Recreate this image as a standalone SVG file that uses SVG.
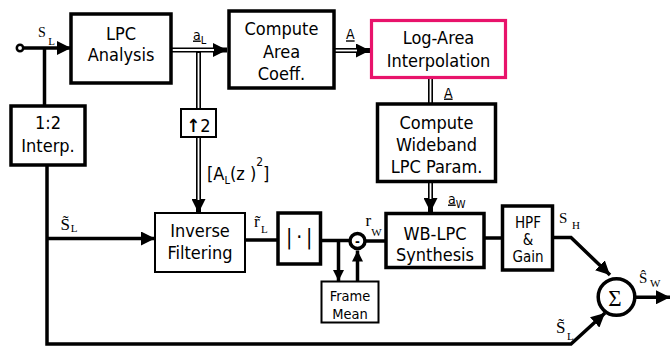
<svg xmlns="http://www.w3.org/2000/svg" width="670" height="347" viewBox="0 0 670 347">
<defs>
<style>
.bk{fill:#fff;stroke:#000;stroke-width:3.5}
.bn{fill:#fff;stroke:#000;stroke-width:2}
.pk{fill:#fff;stroke:#E8136B;stroke-width:3.2}
.ln{fill:none;stroke:#000;stroke-width:3.5}
.dbk{fill:none;stroke:#000;stroke-width:5}
.dwh{fill:none;stroke:#fff;stroke-width:1.8}
.t{font-family:"DejaVu Sans","Liberation Sans",sans-serif;font-stretch:condensed;font-size:18px;text-anchor:middle;fill:#000}
.s{font-family:"DejaVu Sans","Liberation Sans",sans-serif;font-stretch:condensed;font-size:15px;text-anchor:middle;fill:#000}
.lb{font-family:"DejaVu Sans","Liberation Sans",sans-serif;font-stretch:condensed;font-size:14px;fill:#000}
.sf{font-family:"Liberation Serif","Times New Roman",serif;fill:#000}
</style>
<marker id="ah" markerUnits="userSpaceOnUse" markerWidth="14" markerHeight="14" refX="14" refY="7" orient="auto" viewBox="0 0 14 14"><path d="M0,0 L14,7 L0,14 z" fill="#000"/></marker>
<marker id="as" markerUnits="userSpaceOnUse" markerWidth="11" markerHeight="11" refX="11" refY="5.5" orient="auto" viewBox="0 0 11 11"><path d="M0,0 L11,5.5 L0,11 z" fill="#000"/></marker>
</defs>
<rect width="670" height="347" fill="#fff"/>

<g id="connectors">
<circle cx="20" cy="48" r="3.2" fill="#fff" stroke="#000" stroke-width="2.5"/>
<line class="ln" x1="23" y1="48" x2="71" y2="48" marker-end="url(#ah)"/>
<line class="ln" x1="44.5" y1="48" x2="44.5" y2="106"/>
<polyline class="ln" points="47,165 47,344 571,344 605,313" marker-end="url(#ah)"/>
<line class="ln" x1="47" y1="238.5" x2="155" y2="238.5" marker-end="url(#ah)"/>
<line class="dbk" x1="171" y1="50" x2="227" y2="50" marker-end="url(#ah)"/>
<line class="dwh" x1="171" y1="50" x2="214" y2="50"/>
<line class="dbk" x1="198.5" y1="52" x2="198.5" y2="109"/>
<line class="dwh" x1="198.5" y1="53" x2="198.5" y2="109"/>
<line class="dbk" x1="198.5" y1="137" x2="198.5" y2="213" marker-end="url(#ah)"/>
<line class="dwh" x1="198.5" y1="137" x2="198.5" y2="200"/>
<line class="dbk" x1="334" y1="50.5" x2="370" y2="50.5" marker-end="url(#ah)"/>
<line class="dwh" x1="334" y1="50.5" x2="357" y2="50.5"/>
<line class="dbk" x1="430.5" y1="78" x2="430.5" y2="104"/>
<line class="dwh" x1="430.5" y1="79" x2="430.5" y2="103"/>
<line class="dbk" x1="430.5" y1="181" x2="430.5" y2="212" marker-end="url(#ah)"/>
<line class="dwh" x1="430.5" y1="182" x2="430.5" y2="199"/>
<line class="ln" x1="245" y1="240" x2="278" y2="240"/>
<line class="ln" x1="320" y1="240.5" x2="349.5" y2="240.5"/>
<line class="ln" x1="338.5" y1="240.5" x2="338.5" y2="281" marker-end="url(#as)"/>
<line class="ln" x1="357.5" y1="282" x2="357.5" y2="250.5" marker-end="url(#as)"/>
<line class="ln" x1="365.5" y1="241" x2="386" y2="241"/>
<line class="ln" x1="484" y1="238" x2="502.5" y2="238"/>
<polyline class="ln" points="552,237.5 571,237.5 610,275" marker-end="url(#ah)"/>
<line class="ln" x1="635" y1="297.3" x2="670" y2="297.3" marker-end="url(#ah)"/>
</g>

<g id="lpc">
<rect class="bk" x="71" y="14" width="100" height="69"/>
<text class="t" x="121" y="39.5">LPC</text>
<text class="t" x="121" y="60.5">Analysis</text>
</g>
<g id="interp">
<rect class="bk" x="11" y="106" width="74" height="59"/>
<text class="t" x="48" y="129">1:2</text>
<text class="t" x="48" y="152">Interp.</text>
</g>
<g id="area">
<rect class="bk" x="229" y="11" width="105" height="77"/>
<text class="t" x="281.5" y="35">Compute</text>
<text class="t" x="281.5" y="57.5">Area</text>
<text class="t" x="281.5" y="80">Coeff.</text>
</g>
<g id="logarea">
<rect class="pk" x="371.5" y="20.5" width="134" height="57"/>
<text class="t" x="438.5" y="44">Log-Area</text>
<text class="t" x="438.5" y="67">Interpolation</text>
</g>
<g id="wideband">
<rect class="bk" x="377.5" y="104" width="118" height="77.5"/>
<text class="t" x="436.5" y="128.5">Compute</text>
<text class="t" x="436.5" y="150.5">Wideband</text>
<text class="t" x="436.5" y="173">LPC Param.</text>
</g>
<g id="upsample">
<rect class="bn" x="181" y="109" width="35" height="28"/>
<text class="t" x="198.5" y="131.5"><tspan font-weight="bold">↑</tspan>2</text>
</g>
<g id="inverse">
<rect class="bn" x="155" y="213" width="90" height="59"/>
<text class="t" x="200" y="236.5">Inverse</text>
<text class="t" x="200" y="259">Filtering</text>
</g>
<g id="abs">
<rect class="bk" x="278" y="213" width="42.5" height="51"/>
<text class="t" style="font-size:21px" y="243.5"><tspan x="289.3">|</tspan><tspan x="299.3">·</tspan><tspan x="309.3">|</tspan></text>
</g>
<g id="subtract">
<circle cx="357.5" cy="241" r="7.5" fill="#fff" stroke="#000" stroke-width="3.5"/>
<text class="t" style="font-size:13px;font-weight:bold" x="357.5" y="245.5">-</text>
</g>
<g id="framemean">
<rect class="bn" x="321.5" y="281.5" width="57" height="41"/>
<text class="s" x="350" y="301" style="font-size:14.5px">Frame</text>
<text class="s" x="350" y="318.5" style="font-size:14.5px">Mean</text>
</g>
<g id="wblpc">
<rect class="bk" x="386" y="213.5" width="98" height="54"/>
<text class="t" x="435" y="239.5">WB-LPC</text>
<text class="t" x="435" y="260.5">Synthesis</text>
</g>
<g id="hpf">
<rect class="bk" x="502.5" y="206" width="50" height="64"/>
<text class="s" x="528" y="227.5">HPF</text>
<text class="s" x="528" y="244.5">&amp;</text>
<text class="s" x="528" y="261.5">Gain</text>
</g>
<g id="sum">
<circle cx="616.5" cy="297" r="18.3" fill="#fff" stroke="#000" stroke-width="3.5"/>
<text class="sf" x="615" y="306" style="font-size:23px" text-anchor="middle">Σ</text>
</g>

<g id="labels">
<text class="sf" x="38" y="37" style="font-size:14px">S<tspan font-size="11" dx="2.5" dy="8">L</tspan></text>
<text class="lb" x="193" y="39.5"><tspan text-decoration="underline">a</tspan><tspan font-size="11" dy="4">L</tspan></text>
<text class="lb" x="346" y="39.3" text-decoration="underline">A</text>
<text class="lb" x="444" y="97.5" text-decoration="underline">A</text>
<text class="lb" x="448" y="203.5"><tspan text-decoration="underline">a</tspan><tspan font-size="11" dy="4.5">W</tspan></text>
<text class="t" x="207" y="180" style="text-anchor:start">[A<tspan font-size="11" dy="4">L</tspan><tspan dy="-4">(z )</tspan><tspan font-size="12" dy="-14">2</tspan><tspan dy="14">]</tspan></text>
<text class="sf" x="60.5" y="230" style="font-size:17px">S̃<tspan font-size="11" dx="0.7" dy="2.3">L</tspan></text>
<text class="sf" x="254" y="227" style="font-size:17px">r̃<tspan font-size="11" dx="1.3" dy="5.7">L</tspan></text>
<text class="sf" x="365.5" y="226" style="font-size:17px">r<tspan font-size="11" dx="0" dy="10">W</tspan></text>
<text class="sf" x="559" y="223" style="font-size:15px">S<tspan font-size="11" dx="4.7" dy="6">H</tspan></text>
<text class="sf" x="639" y="283" style="font-size:15px">Ŝ<tspan font-size="11" dx="2.7" dy="4">W</tspan></text>
<text class="sf" x="556" y="333" style="font-size:17px">S̃<tspan font-size="11" dx="1.5" dy="7">L</tspan></text>
</g>
</svg>
